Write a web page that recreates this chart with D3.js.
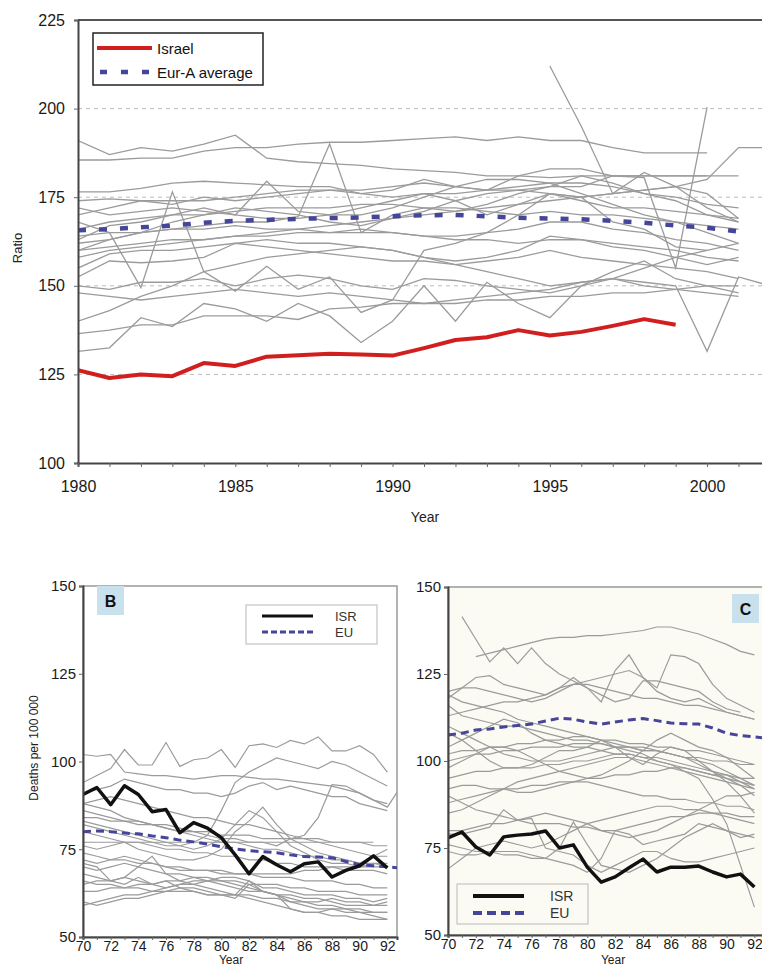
<!DOCTYPE html>
<html>
<head>
<meta charset="utf-8">
<script src="https://cdnjs.cloudflare.com/ajax/libs/d3/7.8.5/d3.min.js"></script>
<style>
    body { margin: 0; background: #fff; }
    svg { display: block; font-family: "Liberation Sans", Arial, sans-serif; }
</style>
</head>
<body>
<svg id="chart" width="762" height="968"></svg>
<script>
// ---------- 上图：比值 (1980-2002) ----------
const topYears = [1980, 1981, 1982, 1983, 1984, 1985, 1986, 1987, 1988, 1989, 1990,
    1991, 1992, 1993, 1994, 1995, 1996, 1997, 1998, 1999, 2000, 2001, 2002];
const topYTicks = [100, 125, 150, 175, 200, 225];
const topXLabels = [1980, 1985, 1990, 1995, 2000];
const topGrid = [125, 150, 175, 200];

const israelRatio = [126.2, 124, 125, 124.5, 128.2, 127.4, 130, 130.4, 130.8, 130.6, 130.3,
    132.4, 134.7, 135.5, 137.5, 136, 137, 138.7, 140.6, 139];
const eurAverage = [165.7, 166, 166.5, 167, 167.8, 168.3, 168.6, 168.9, 169.1, 169.3, 169.6,
    169.9, 170, 169.6, 169.2, 169, 168.8, 168.3, 167.8, 167, 166.4, 165.3];

const topCountries = [
    [191, 187, 189, 188, 190, 192.5, 186, 185, 184.5, 184, 183, 182.5, 182, 181, 181, 180.5, 181, 181, 181, 181, 181],
    [185.5, 185.5, 186, 186, 188, 189, 189, 190, 190.5, 190.5, 191, 191.5, 192, 191, 192, 191, 191, 189, 187.5, 187.5, 187.5],
    [176.5, 176.5, 177.5, 179, 179.5, 179, 178.5, 178, 178, 176, 177, 180, 178, 177, 181, 183, 183, 181, 181, 181, 181, 181],
    [168, 165, 149.5, 176.5, 154, 148.5, 155.5, 149, 152.5, 142.5, 146, 160, 162, 165, 170, 176, 175, 168, 166, 161, 160],
    [160, 163, 165, 166, 167, 168, 168, 169.5, 190, 165, 170, 172, 171, 173, 176, 178, 181, 179, 176, 174, 170, 168],
    [163, 167, 168, 170, 172, 170, 179.5, 171, 170, 172, 174, 176, 174, 170, 173, 176, 175, 176, 177, 178, 176, 169],
    [152.5, 157, 156.5, 157, 158, 162, 163, 162, 162, 161, 160, 158, 157, 158, 160, 164, 163, 161, 160, 158, 156, 158],
    [155, 159, 160, 160, 161, 162, 161, 160, 159, 158, 157, 157, 156, 157, 158, 160, 158, 157, 156, 155, 154, 152],
    [170, 172, 174, 173, 175, 174, 175, 176, 177, 177, 178, 179, 178, 177, 178, 179, 179, 178, 176, 175, 173, 172],
    [166, 168, 169, 170, 170, 171, 172, 172, 172, 173, 173, 172, 172, 171, 170, 171, 170, 170, 169, 168, 167, 166],
    [164, 165, 165, 166, 166, 167, 166, 166, 165, 166, 165, 164, 164, 165, 166, 168, 168, 166, 165, 163, 162, 160],
    [160, 161, 162, 163, 163, 164, 164, 165, 165, 165, 165, 164, 163, 163, 162, 163, 163, 162, 161, 160, 158, 157],
    [136.5, 137.5, 139, 139, 141.5, 141.5, 141.5, 140.5, 143.5, 144, 145, 145, 145, 146, 146, 147, 147, 148, 148, 149, 150, 150],
    [131.5, 132.5, 141, 138.5, 145, 143.5, 140, 145, 141.5, 134, 140, 150, 140, 151, 145, 141, 150, 154, 157, 152, 150, 148],
    [null, null, null, null, null, null, null, null, null, null, null, null, null, null, null, 212, 195, 176, 182, 178, 172, 168],
    [174, 174.5, 174, 174, 174, 175, 176, 177, 177, 176, 175, 176, 176, 177, 177, 178, 178, 181, 180.5, 155, 200.4],
    [150, 149, 151, 151, 152, 150, 152, 153, 152, 150, 149, 152, 151.5, 150, 149, 148, 150, 152, 151, 150, 131.5, 152.5, 150],
    [158, 160, 161, 162, 163, 164, 165, 166, 167, 168, 169, 170, 171, 172, 173, 174, 175, 176, 177, 178, 180, 189, 189],
    [148, 147, 146, 147, 148, 149, 148, 147, 148, 147, 146, 145, 146, 147, 148, 149, 151, 152, 155, 158, 160, 162],
    [140, 143, 147, 150, 154, 156, 158, 159, 160, 161, 160, 158, 156, 154, 152, 150, 151, 152, 150, 149, 148, 147],
    [172, 170, 171, 172, 171, 170, 169, 169, 170, 170, 172, 175, 178, 180, 180, 179, 176, 173, 170, 168, 165, 162],
    [162, 163, 165, 168, 170, 172, 171, 170, 168, 167, 169, 171, 174, 176, 177, 176, 174, 172, 172, 171, 170, 169]
];

// ---------- 下图：每十万人死亡数 (1970-1993) ----------
const bottomYears = [70, 71, 72, 73, 74, 75, 76, 77, 78, 79, 80, 81, 82, 83, 84, 85, 86, 87, 88, 89, 90, 91, 92, 93];
const bottomXLabels = [70, 72, 74, 76, 78, 80, 82, 84, 86, 88, 90, 92];
const bottomYTicks = [50, 75, 100, 125, 150];

const isrB = [90.6, 92.6, 87.7, 93.1, 90.6, 85.7, 86.3, 79.7, 82.6, 81, 78.3, 73.4, 68, 72.9, 70.6,
    68.6, 70.9, 71.4, 67.1, 69, 70.3, 73.1, 69.7];
const euB = [80, 80.2, 80, 79.6, 79.4, 78.8, 78.3, 77.6, 77.1, 76.5, 75.7, 75.1, 74.6, 74.3, 74,
    73.4, 72.9, 72.8, 72.6, 71.5, 70.6, 70.3, 70, 69.6];
const countriesB = [
    [102, 101.5, 102, 97, 96.5, 96, 96, 95.5, 95, 95.5, 96, 96, 95.5, 95, 95, 94.5, 94, 93.5, 93, 92, 91, 89, 87, 93],
    [94, 96, 98, 103.4, 99, 99, 105.4, 98.6, 100.5, 101, 103.4, 98.3, 104.5, 105, 104, 106, 105, 107, 103, 103, 104.5, 102, 97],
    [91, 92, 93, 95, 94, 93, 92, 92, 91, 91, 90, 91, 93, 94, 92, 93, 92, 91, 90, 90, 88, 87, 86],
    [83, 82, 81, 80, 79, 78, 77, 76, 77, 79, 86, 94, 97, 99, 101, 100, 99, 98, 100, 99, 97, 95, 93],
    [88, 87, 86, 84, 83, 82, 81, 80, 80, 79, 78, 78, 77, 77, 76, 78, 79, 84, 93.4, 93, 91, 89, 88],
    [86, 85, 84, 83, 82, 82, 81, 80, 79, 78, 77, 77, 76, 75, 75, 74, 73, 73, 72, 72, 71, 71, 70],
    [84, 84, 83, 83, 83, 82, 82, 81, 80, 80, 79, 79, 79, 78, 78, 78, 78, 78, 77, 77, 77, 76, 76],
    [77, 77, 77, 77, 77, 77, 77, 77, 77, 77, 77, 77, 77, 77, 77, 77, 77, 77, 77, 77, 77, 77],
    [82, 81, 80, 79, 78, 77, 76, 76, 75, 76, 78, 82, 86, 84, 80, 76, 74, 72, 71, 71, 70, 70, 70],
    [76, 75, 76, 77, 75, 74, 73, 72, 72, 73, 75, 80, 83, 87, 82, 78, 76, 74, 73, 72, 71, 73, 75],
    [72, 71, 72, 73, 72, 71, 70, 70, 69, 69, 68, 68, 68, 67, 67, 67, 66, 66, 66, 65, 65, 64, 64],
    [70, 69, 70, 71, 70, 69, 68, 68, 67, 67, 66, 66, 65, 65, 65, 64, 64, 63, 63, 63, 62, 62, 62],
    [68, 67, 66, 65, 67, 65, 66, 64, 63, 62, 62, 61, 65, 63, 62, 60, 60, 59, 59, 58, 58, 57, 57],
    [65, 66, 66, 67, 66, 65, 64, 65, 66, 66, 65, 64, 63, 63, 62, 61, 60, 60, 61, 60, 60, 59, 60],
    [60, 59, 60, 61, 61, 62, 63, 64, 64, 63, 62, 62, 61, 60, 59, 58, 57, 57, 56, 56, 55, 55, 55],
    [63, 63, 64, 64, 65, 65, 66, 66, 67, 66, 66, 65, 64, 63, 62, 62, 61, 61, 60, 59, 59, 59, 59],
    [71, 70, 66, 67, 70, 73, 68, 66, 65, 66, 67, 67, 66, 64, 64, 63, 62, 62, 62, 61, 61, 60, 61],
    [74, 73, 72, 72, 71, 71, 70, 69, 69, 69, 69, 68, 68, 68, 68, 68, 69, 69, 70, 70, 70, 71, 71],
    [80, 79, 78, 77, 77, 76, 75, 75, 74, 74, 73, 73, 72, 72, 71, 71, 70, 70, 70, 69, 69, 69, 68],
    [88, 89, 90, 89, 88, 87, 86, 85, 84, 84, 83, 82, 82, 81, 80, 79, 78, 77, 76, 75, 74, 73, 73],
    [66, 65, 65, 64, 64, 63, 63, 63, 63, 62, 62, 62, 66, 63, 62, 58, 57, 57, 58, 57, 57, 56, 55],
    [59, 60, 61, 62, 62, 63, 64, 65, 65, 64, 63, 62, 62, 61, 61, 60, 59, 58, 58, 58, 57, 57, 57]
];

const isrC = [77.9, 79.6, 75.3, 73, 78.2, 78.7, 79, 79.9, 75, 75.9, 69.5, 65.2, 66.7, 69.3, 71.8,
    68.1, 69.5, 69.5, 69.8, 68.1, 66.7, 67.5, 63.8];
const euC = [107.5, 108, 108.9, 109.2, 109.8, 110.2, 110.6, 111.5, 112.3, 112, 111.2, 110.6, 111.2,
    111.8, 112.2, 111.6, 110.9, 110.7, 110.6, 109.5, 108, 107.3, 106.9, 106.5];
const countriesC = [
    [null, null, 130, 131, 132, 133, 134, 135, 135.5, 135.5, 136, 136, 136.5, 137, 137.5, 138.5, 138.5, 137.5, 136.5, 135, 133.5, 131.5, 130.5],
    [null, 141.5, 135, 128.5, 132.5, 128, 132.5, 128, 125, 123, 121, 119, 117, 118, 123, 123, 122, 121, 120, 117, 115, 114],
    [118, 121, 124, 124.5, 122, 121, 120, 119, 121, 124, 121, 117, 126, 130.5, 124, 121, 130.5, 130, 128, 122, 118, 116, 114],
    [120, 121, 121, 120, 119, 118, 117, 118, 120, 122, 123, 124, 125, 126, 124, 120, 118, 117, 118, 116, 114, 113, 112],
    [113, 114, 115, 116, 117, 117, 118, 119, 121, 122, 122, 121, 120, 119, 118, 118, 117, 116, 116, 115, 114, 113, 112],
    [116, 113, 112, 111, 110, 110, 109, 108, 107, 106, 106, 105, 104, 104, 103, 103, 102, 101, 100, 99, 97, 95, 93],
    [104, 106, 108, 110, 112, 111, 108, 106, 105, 104, 104, 103, 102, 102, 101, 101, 100, 99, 98, 97, 96, 94, 92],
    [102, 103, 103, 104, 104, 105, 105, 106, 106, 107, 107, 106, 106, 105, 105, 104, 104, 103, 103, 102, 101, 100, 99],
    [98, 100, 102, 104, 104, 103, 101, 99, 97, 96, 95, 96, 98, 100, 103, 106, 108, 106, 104, 103, 101, 98, 95],
    [110, 108, 106, 104, 102, 101, 100, 100, 100, 101, 102, 103, 104, 103, 102, 100, 99, 98, 97, 96, 95, 94, 93],
    [108, 106, 103, 100, 98, 98, 99, 101, 103, 103, 104, 106, 104, 101, 99, 102, 104, 103, 100, 97, 94, 90, 85],
    [95, 96, 97, 97, 98, 98, 98, 99, 99, 100, 100, 101, 102, 102, 101, 100, 99, 97, 95, 89, 82, 70, 58],
    [92, 93, 93, 92, 92, 91, 91, 92, 93, 94, 94, 93, 92, 91, 90, 90, 89, 89, 88, 88, 87, 87, 86],
    [88, 89, 90, 91, 92, 92, 93, 93, 94, 94, 95, 95, 96, 96, 97, 97, 98, 98, 97, 96, 96, 95, 95],
    [85, 86, 88, 90, 92, 94, 95, 96, 97, 98, 99, 100, 101, 101, 100, 99, 98, 97, 96, 95, 94, 93, 92],
    [80, 80, 81, 82, 82, 83, 84, 85, 84, 83, 82, 80, 79, 78, 79, 80, 82, 84, 86, 88, 90, 90, 91],
    [79, 79, 80, 81, 86, 83, 83.5, 75, 74, 73, 70, 68, 70, 72, 74, 74, 72, 71, 71, 72, 73, 74, 75],
    [74, 73, 73, 74, 74, 74, 73, 72, 75, 82.5, 76, 70, 69, 68, 70, 72, 75, 78, 80, 82, 80, 78, 79],
    [76, 75, 74, 74, 73, 73, 72, 72, 71, 70, 68, 72, 80, 79, 76, 77, 78, 79, 82, 81, 80, 79, 78],
    [90, 88, 86, 85, 84, 83, 82, 82, 82, 81, 81, 80, 80, 81, 82, 83, 84, 84, 85, 85, 84, 83, 82],
    [69, 72, 75, 76, 77, 76, 75, 76, 78, 80, 82, 83, 84, 85, 86, 87, 87, 86, 86, 85, 85, 84, 84],
    [119, 117, 116, 115, 114, 112, 111, 110, 109, 108, 107, 106, 105, 104, 104, 103, 102, 101, 101, 100, 100, 99, 99],
    [100, 101, 102, 102, 103, 103, 104, 104, 104, 105, 105, 105, 104, 104, 103, 103, 102, 101, 99, 97, 95, 93, 90]
];

const grayColor = "#9b9b9b";
const blueColor = "#45459a";

/**
 * 统一的坐标轴样式
 */
function styleAxis(g, fontSize) {
    g.select(".domain").attr("stroke", "#444").attr("stroke-width", 2);
    g.selectAll(".tick line").attr("stroke", "#666");
    g.selectAll(".tick text")
        .attr("fill", "#1a1a1a")
        .style("font-size", fontSize + "px");
}

/**
 * 绘制上图
 */
function drawTopChart(svg) {
    let left = 78, right = 770, top = 20, bottom = 463;

    let x = d3.scaleLinear().domain([1980, 2002]).range([left, right]);
    let y = d3.scaleLinear().domain([100, 225]).range([bottom, top]);

    svg.append("clipPath").attr("id", "clipTop")
        .append("rect").attr("x", left).attr("y", top).attr("width", right - left).attr("height", bottom - top);

    // 网格虚线
    svg.append("g").selectAll("line")
        .data(topGrid)
        .enter()
        .append("line")
        .attr("x1", left).attr("x2", right)
        .attr("y1", d => y(d)).attr("y2", d => y(d))
        .attr("stroke", "#bdbdbd")
        .attr("stroke-dasharray", "4,4");

    let line = d3.line()
        .defined(d => d != null)
        .x((d, i) => x(topYears[i]))
        .y(d => y(d));

    let plot = svg.append("g").attr("clip-path", "url(#clipTop)");

    plot.selectAll(".country")
        .data(topCountries)
        .enter()
        .append("path")
        .attr("fill", "none")
        .attr("stroke", grayColor)
        .attr("stroke-width", 1.3)
        .attr("d", line);

    plot.append("path")
        .attr("fill", "none")
        .attr("stroke", blueColor)
        .attr("stroke-width", 4.5)
        .attr("stroke-dasharray", "8,13")
        .attr("d", line(eurAverage));

    plot.append("path")
        .attr("fill", "none")
        .attr("stroke", "#d11f1f")
        .attr("stroke-width", 4)
        .attr("stroke-linejoin", "round")
        .attr("d", line(israelRatio));

    // 上边框
    svg.append("line")
        .attr("x1", left).attr("x2", right).attr("y1", top).attr("y2", top)
        .attr("stroke", "#555").attr("stroke-width", 2);

    // 坐标轴
    svg.append("g")
        .attr("transform", "translate(" + left + ",0)")
        .call(d3.axisLeft(y).tickValues(topYTicks).tickSize(4).tickPadding(9))
        .call(g => styleAxis(g, 16));

    svg.append("g")
        .attr("transform", "translate(0," + bottom + ")")
        .call(d3.axisBottom(x).tickValues(topYears).tickSize(4).tickPadding(14)
            .tickFormat(d => topXLabels.includes(d) ? d : ""))
        .call(g => styleAxis(g, 16));

    svg.append("text")
        .attr("transform", "translate(22,248) rotate(-90)")
        .attr("text-anchor", "middle")
        .style("font-size", "13px")
        .attr("fill", "#222")
        .text("Ratio");

    svg.append("text")
        .attr("x", 425).attr("y", 522)
        .attr("text-anchor", "middle")
        .style("font-size", "14px")
        .attr("fill", "#222")
        .text("Year");

    // 图例
    let legend = svg.append("g");
    legend.append("rect")
        .attr("x", 93).attr("y", 33).attr("width", 170).attr("height", 52)
        .attr("fill", "#fff").attr("stroke", "#222").attr("stroke-width", 1.5);
    legend.append("line")
        .attr("x1", 97).attr("x2", 152).attr("y1", 48).attr("y2", 48)
        .attr("stroke", "#d11f1f").attr("stroke-width", 4);
    legend.append("line")
        .attr("x1", 100).attr("x2", 152).attr("y1", 72).attr("y2", 72)
        .attr("stroke", blueColor).attr("stroke-width", 4.5).attr("stroke-dasharray", "7,14");
    legend.append("text").attr("x", 157).attr("y", 54).style("font-size", "15px").attr("fill", "#111").text("Israel");
    legend.append("text").attr("x", 157).attr("y", 78).style("font-size", "15px").attr("fill", "#111").text("Eur-A average");
}

/**
 * 绘制下方小图 (B / C)
 */
function drawPanel(svg, opt) {
    let x = d3.scaleLinear().domain([70, opt.maxYear]).range([opt.left, opt.right]);
    let y = d3.scaleLinear().domain([50, 150]).range([opt.bottom, opt.top]);

    svg.append("rect")
        .attr("x", opt.left).attr("y", opt.top)
        .attr("width", opt.right - opt.left).attr("height", opt.bottom - opt.top)
        .attr("fill", opt.bg)
        .attr("stroke", "#9a9a9a").attr("stroke-width", 1.5);

    svg.append("clipPath").attr("id", opt.id)
        .append("rect").attr("x", opt.left).attr("y", opt.top)
        .attr("width", opt.right - opt.left).attr("height", opt.bottom - opt.top);

    let line = d3.line()
        .defined(d => d != null)
        .x((d, i) => x(bottomYears[i]))
        .y(d => y(d));

    let plot = svg.append("g").attr("clip-path", "url(#" + opt.id + ")");

    plot.selectAll(".country")
        .data(opt.countries)
        .enter()
        .append("path")
        .attr("fill", "none")
        .attr("stroke", grayColor)
        .attr("stroke-width", 1.2)
        .attr("d", line);

    plot.append("path")
        .attr("fill", "none")
        .attr("stroke", blueColor)
        .attr("stroke-width", 3)
        .attr("stroke-dasharray", "8,5")
        .attr("d", line(opt.eu));

    plot.append("path")
        .attr("fill", "none")
        .attr("stroke", "#111")
        .attr("stroke-width", 3.5)
        .attr("stroke-linejoin", "round")
        .attr("d", line(opt.isr));

    svg.append("g")
        .attr("transform", "translate(" + opt.left + ",0)")
        .call(d3.axisLeft(y).tickValues(bottomYTicks).tickSize(4).tickPadding(3))
        .call(g => styleAxis(g, 15));

    svg.append("g")
        .attr("transform", "translate(0," + opt.bottom + ")")
        .call(d3.axisBottom(x).tickValues(bottomYears.filter(d => d <= 92)).tickSize(3).tickPadding(1)
            .tickFormat(d => bottomXLabels.includes(d) ? d : ""))
        .call(g => styleAxis(g, 14));

    svg.append("text")
        .attr("x", opt.yearX).attr("y", opt.yearY)
        .attr("text-anchor", "middle")
        .style("font-size", "12px")
        .attr("fill", "#222")
        .text("Year");

    // 面板标记
    svg.append("rect")
        .attr("x", opt.tag[0]).attr("y", opt.tag[1]).attr("width", 27).attr("height", 29)
        .attr("fill", "#c8e1ed");
    svg.append("text")
        .attr("x", opt.tag[0] + 13.5).attr("y", opt.tag[1] + 21)
        .attr("text-anchor", "middle")
        .style("font-size", "16px").style("font-weight", "bold")
        .attr("fill", "#111")
        .text(opt.name);

    // 图例
    let lg = opt.legend;
    let legend = svg.append("g");
    legend.append("rect")
        .attr("x", lg.x).attr("y", lg.y).attr("width", 131).attr("height", lg.h)
        .attr("fill", opt.bg).attr("stroke", "#c4c4c4").attr("stroke-width", 1.2);
    legend.append("line")
        .attr("x1", lg.x + 16).attr("x2", lg.x + 67).attr("y1", lg.y + lg.r1).attr("y2", lg.y + lg.r1)
        .attr("stroke", "#111").attr("stroke-width", lg.w);
    legend.append("line")
        .attr("x1", lg.x + 16).attr("x2", lg.x + 67).attr("y1", lg.y + lg.r2).attr("y2", lg.y + lg.r2)
        .attr("stroke", blueColor).attr("stroke-width", lg.w).attr("stroke-dasharray", lg.dash);
    legend.append("text").attr("x", lg.x + lg.tx).attr("y", lg.y + lg.r1 + 5)
        .style("font-size", lg.fs + "px").attr("fill", "#333").text("ISR");
    legend.append("text").attr("x", lg.x + lg.tx).attr("y", lg.y + lg.r2 + 5)
        .style("font-size", lg.fs + "px").attr("fill", "#333").text("EU");
}

function init() {
    let svg = d3.select("#chart");

    drawTopChart(svg);

    drawPanel(svg, {
        id: "clipB", name: "B", bg: "#ffffff",
        left: 83, right: 397, top: 586, bottom: 937, maxYear: 92.7,
        isr: isrB, eu: euB, countries: countriesB,
        tag: [97, 586], yearX: 231, yearY: 964,
        legend: {x: 246, y: 605, h: 39, r1: 11, r2: 27, w: 3, dash: "6,3", tx: 89, fs: 13}
    });

    drawPanel(svg, {
        id: "clipC", name: "C", bg: "#fbfbf4",
        left: 448, right: 770, top: 587, bottom: 935, maxYear: 92.4 + (770 - 760) / 13.9,
        isr: isrC, eu: euC, countries: countriesC,
        tag: [732, 594], yearX: 613, yearY: 964,
        legend: {x: 457, y: 884, h: 40, r1: 12, r2: 29, w: 4, dash: "9,5", tx: 93, fs: 14}
    });

    svg.append("text")
        .attr("transform", "translate(38,748) rotate(-90)")
        .attr("text-anchor", "middle")
        .style("font-size", "12px")
        .attr("fill", "#222")
        .text("Deaths per 100 000");
}

init();
</script>
</body>
</html>
